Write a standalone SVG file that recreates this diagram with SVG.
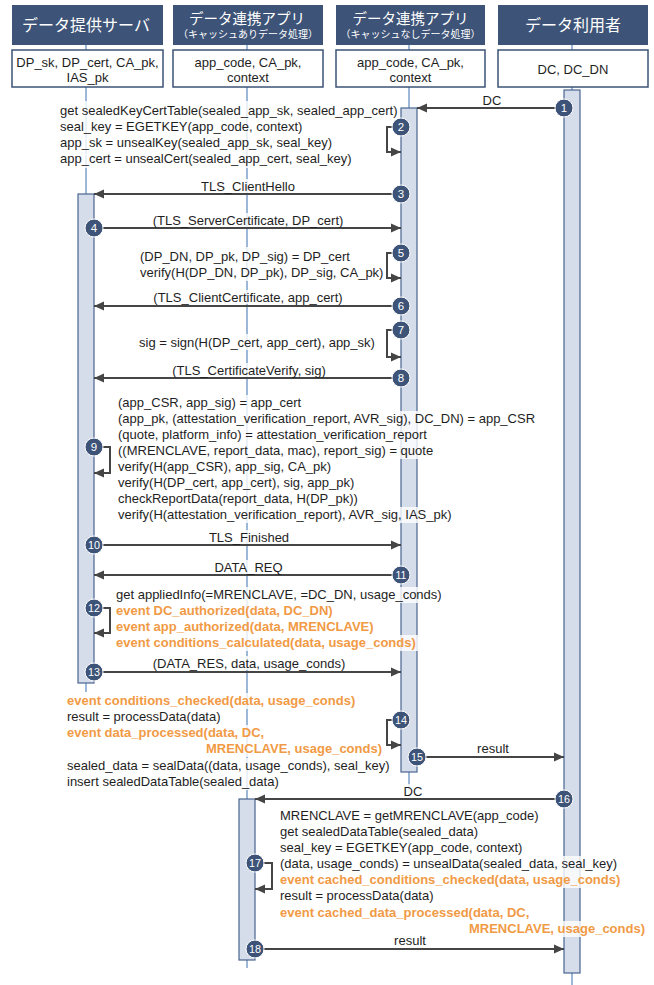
<svg xmlns="http://www.w3.org/2000/svg" width="654" height="985" viewBox="0 0 654 985">
<style>
.hdr{fill:#3d5377}
.hdrt{font-family:"Noto Sans CJK JP","Noto Sans CJK SC",sans-serif;fill:#fff;text-anchor:middle}
.box{fill:#fff;stroke:#3d5377;stroke-width:1.5}
.life{stroke:#7d9fcc;stroke-width:1.5}
.act{fill:#d5dcea;stroke:#4a6590;stroke-width:1.2}
.msg{stroke:#454545;stroke-width:2;fill:none;marker-end:url(#ah)}
.t{font-family:"Liberation Sans",Arial,sans-serif;font-size:13px;fill:#1e1e1e}
.c{text-anchor:middle}
.e{text-anchor:end}
.o{fill:#f19a45;font-weight:bold}
.bg{fill:#fff;fill-opacity:0.8}
.num circle{fill:#3d5377;stroke:#fff;stroke-width:1}
.num text{font-family:"Liberation Sans",Arial,sans-serif;font-size:11.5px;fill:#fff;text-anchor:middle}
</style>
<defs>
<marker id="ah" viewBox="0 0 10 10" refX="10" refY="5" markerWidth="5" markerHeight="5" orient="auto" markerUnits="strokeWidth"><path d="M0,0.5 L10,5 L0,9.5 z" fill="#454545"/></marker>
</defs>
<rect width="654" height="985" fill="#fff"/>

<g id="lifelines">
<line class="life" x1="86" y1="45" x2="86" y2="692"/>
<line class="life" x1="247" y1="45" x2="247" y2="968"/>
<line class="life" x1="409" y1="45" x2="409" y2="790"/>
<line class="life" x1="572" y1="45" x2="572" y2="985"/>
</g>

<g id="dp">
<rect class="hdr" x="12" y="5" width="151" height="40"/>
<text class="hdrt" x="86" y="31" font-size="16">データ提供サーバ</text>
<rect class="box" x="12" y="50" width="151" height="37"/>
<text class="t c" x="87.5" y="66.5">DP_sk, DP_cert, CA_pk,</text>
<text class="t c" x="87.5" y="81.5">IAS_pk</text>
<rect class="act" x="78" y="194" width="16" height="489"/>
</g>

<g id="app_cache">
<rect class="hdr" x="173" y="5" width="150" height="40"/>
<text class="hdrt" x="247" y="23.5" font-size="14.5">データ連携アプリ</text>
<text class="hdrt" x="248" y="38" font-size="10">（キャッシュありデータ処理）</text>
<rect class="box" x="173" y="50" width="150" height="37"/>
<text class="t c" x="248" y="66.5">app_code, CA_pk,</text>
<text class="t c" x="248" y="81.5">context</text>
<rect class="act" x="239" y="799" width="16" height="161"/>
</g>

<g id="app_nocache">
<rect class="hdr" x="336" y="5" width="149" height="40"/>
<text class="hdrt" x="410.5" y="23.5" font-size="14.5">データ連携アプリ</text>
<text class="hdrt" x="410.5" y="38" font-size="10">（キャッシュなしデータ処理）</text>
<rect class="box" x="336" y="50" width="149" height="37"/>
<text class="t c" x="410.5" y="66.5">app_code, CA_pk,</text>
<text class="t c" x="410.5" y="81.5">context</text>
<rect class="act" x="401" y="108" width="16" height="664"/>
</g>

<g id="dc">
<rect class="hdr" x="498" y="5" width="150" height="40"/>
<text class="hdrt" x="573" y="31" font-size="16">データ利用者</text>
<rect class="box" x="498" y="50" width="150" height="37"/>
<text class="t c" x="573" y="73.5">DC, DC_DN</text>
<rect class="act" x="564" y="90" width="16" height="883"/>
</g>

<g id="backgrounds">
<rect class="bg" x="58" y="101" width="340" height="67"/>
<rect class="bg" x="480" y="93" width="24" height="14"/>
<rect class="bg" x="200" y="179" width="96" height="14"/>
<rect class="bg" x="153" y="213" width="190" height="14"/>
<rect class="bg" x="138" y="247" width="240" height="34"/>
<rect class="bg" x="153" y="290" width="190" height="14"/>
<rect class="bg" x="137" y="334" width="240" height="16"/>
<rect class="bg" x="170" y="363" width="158" height="14"/>
<rect class="bg" x="116" y="395" width="186" height="16"/>
<rect class="bg" x="116" y="411" width="422" height="16"/>
<rect class="bg" x="116" y="427" width="328" height="16"/>
<rect class="bg" x="116" y="443" width="323" height="16"/>
<rect class="bg" x="116" y="459" width="211" height="16"/>
<rect class="bg" x="116" y="475" width="240" height="16"/>
<rect class="bg" x="116" y="491" width="245" height="16"/>
<rect class="bg" x="116" y="507" width="342" height="16"/>
<rect class="bg" x="209" y="530" width="80" height="14"/>
<rect class="bg" x="214" y="560" width="69" height="14"/>
<rect class="bg" x="114" y="587" width="330" height="16"/>
<rect class="bg" x="114" y="603" width="225" height="16"/>
<rect class="bg" x="114" y="619" width="268" height="16"/>
<rect class="bg" x="114" y="635" width="306" height="16"/>
<rect class="bg" x="153" y="656" width="192" height="14"/>
<rect class="bg" x="65" y="693" width="293" height="16"/>
<rect class="bg" x="65" y="709" width="162" height="16"/>
<rect class="bg" x="65" y="725" width="205" height="16"/>
<rect class="bg" x="208" y="741" width="176" height="16"/>
<rect class="bg" x="65" y="758" width="323" height="16"/>
<rect class="bg" x="65" y="774" width="216" height="16"/>
<rect class="bg" x="401" y="784" width="24" height="14"/>
<rect class="bg" x="278" y="808" width="257" height="16"/>
<rect class="bg" x="278" y="824" width="202" height="16"/>
<rect class="bg" x="278" y="840" width="239" height="16"/>
<rect class="bg" x="278" y="856" width="339" height="16"/>
<rect class="bg" x="278" y="872" width="344" height="16"/>
<rect class="bg" x="278" y="888" width="161" height="16"/>
<rect class="bg" x="278" y="905" width="263" height="16"/>
<rect class="bg" x="472" y="921" width="175" height="16"/>
</g>

<g id="connectors">
<path class="msg" d="M564,108 H417"/>
<path class="msg" d="M401,127 H387 V152 H401"/>
<path class="msg" d="M401,194 H94"/>
<path class="msg" d="M94,228 H401"/>
<path class="msg" d="M401,253 H387 V278 H401"/>
<path class="msg" d="M401,306 H94"/>
<path class="msg" d="M401,330 H387 V357 H401"/>
<path class="msg" d="M401,378 H94"/>
<path class="msg" d="M94,447 H110 V473 H94"/>
<path class="msg" d="M94,545 H401"/>
<path class="msg" d="M401,575 H94"/>
<path class="msg" d="M94,608 H110 V633 H94"/>
<path class="msg" d="M94,672 H401"/>
<path class="msg" d="M401,720 H387 V745 H401"/>
<path class="msg" d="M417,757 H564"/>
<path class="msg" d="M564,799 H255"/>
<path class="msg" d="M255,863 H272 V889 H255"/>
<path class="msg" d="M255,949 H564"/>

<text class="t c" x="492" y="104.5">DC</text>
<text class="t c" x="248" y="190.5">TLS_ClientHello</text>
<text class="t c" x="248" y="224.5">(TLS_ServerCertificate, DP_cert)</text>
<text class="t c" x="248" y="301.5">(TLS_ClientCertificate, app_cert)</text>
<text class="t c" x="249" y="374.5">(TLS_CertificateVerify, sig)</text>
<text class="t c" x="249" y="541.5">TLS_Finished</text>
<text class="t c" x="248.5" y="571.5">DATA_REQ</text>
<text class="t c" x="249" y="667.5">(DATA_RES, data, usage_conds)</text>
<text class="t c" x="493" y="752.5">result</text>
<text class="t c" x="413" y="795.5">DC</text>
<text class="t c" x="410" y="944.5">result</text>
</g>

<g id="notes">
<text class="t" x="60" y="115">get sealedKeyCertTable(sealed_app_sk, sealed_app_cert)</text>
<text class="t" x="60" y="131">seal_key = EGETKEY(app_code, context)</text>
<text class="t" x="60" y="147">app_sk = unsealKey(sealed_app_sk, seal_key)</text>
<text class="t" x="60" y="163">app_cert = unsealCert(sealed_app_cert, seal_key)</text>

<text class="t" x="140" y="260.5">(DP_DN, DP_pk, DP_sig) = DP_cert</text>
<text class="t" x="140" y="277">verify(H(DP_DN, DP_pk), DP_sig, CA_pk)</text>

<text class="t" x="139" y="346.5">sig = sign(H(DP_cert, app_cert), app_sk)</text>

<text class="t" x="118" y="407">(app_CSR, app_sig) = app_cert</text>
<text class="t" x="118" y="423">(app_pk, (attestation_verification_report, AVR_sig), DC_DN) = app_CSR</text>
<text class="t" x="118" y="439">(quote, platform_info) = attestation_verification_report</text>
<text class="t" x="118" y="455">((MRENCLAVE, report_data, mac), report_sig) = quote</text>
<text class="t" x="118" y="471">verify(H(app_CSR), app_sig, CA_pk)</text>
<text class="t" x="118" y="487">verify(H(DP_cert, app_cert), sig, app_pk)</text>
<text class="t" x="118" y="503">checkReportData(report_data, H(DP_pk))</text>
<text class="t" x="118" y="519">verify(H(attestation_verification_report), AVR_sig, IAS_pk)</text>

<text class="t" x="116" y="599">get appliedInfo(=MRENCLAVE, =DC_DN, usage_conds)</text>
<text class="t o" x="116" y="615">event DC_authorized(data, DC_DN)</text>
<text class="t o" x="116" y="631">event app_authorized(data, MRENCLAVE)</text>
<text class="t o" x="116" y="647">event conditions_calculated(data, usage_conds)</text>

<text class="t o" x="67" y="705">event conditions_checked(data, usage_conds)</text>
<text class="t" x="67" y="721">result = processData(data)</text>
<text class="t o" x="67" y="737">event data_processed(data, DC,</text>
<text class="t o e" x="382" y="753">MRENCLAVE, usage_conds)</text>
<text class="t" x="67" y="770">sealed_data = sealData((data, usage_conds), seal_key)</text>
<text class="t" x="67" y="786">insert sealedDataTable(sealed_data)</text>

<text class="t" x="280" y="820">MRENCLAVE = getMRENCLAVE(app_code)</text>
<text class="t" x="280" y="836">get sealedDataTable(sealed_data)</text>
<text class="t" x="280" y="852">seal_key = EGETKEY(app_code, context)</text>
<text class="t" x="280" y="868">(data, usage_conds) = unsealData(sealed_data, seal_key)</text>
<text class="t o" x="280" y="884">event cached_conditions_checked(data, usage_conds)</text>
<text class="t" x="280" y="900">result = processData(data)</text>
<text class="t o" x="280" y="917">event cached_data_processed(data, DC,</text>
<text class="t o e" x="645" y="933">MRENCLAVE, usage_conds)</text>
</g>

<g id="steps" class="num">
<g id="n1"><circle cx="564" cy="108" r="9"/><text x="564" y="112">1</text></g>
<g id="n2"><circle cx="401" cy="127" r="9"/><text x="401" y="131">2</text></g>
<g id="n3"><circle cx="401" cy="194" r="9"/><text x="401" y="198">3</text></g>
<g id="n4"><circle cx="94" cy="228" r="9"/><text x="94" y="232">4</text></g>
<g id="n5"><circle cx="401" cy="253" r="9"/><text x="401" y="257">5</text></g>
<g id="n6"><circle cx="401" cy="306" r="9"/><text x="401" y="310">6</text></g>
<g id="n7"><circle cx="401" cy="330" r="9"/><text x="401" y="334">7</text></g>
<g id="n8"><circle cx="401" cy="378" r="9"/><text x="401" y="382">8</text></g>
<g id="n9"><circle cx="94" cy="447" r="9"/><text x="94" y="451">9</text></g>
<g id="n10"><circle cx="94" cy="545" r="9"/><text x="94" y="549" textLength="12" lengthAdjust="spacingAndGlyphs">10</text></g>
<g id="n11"><circle cx="401" cy="575" r="9"/><text x="401" y="579" textLength="11" lengthAdjust="spacingAndGlyphs">11</text></g>
<g id="n12"><circle cx="94" cy="608" r="9"/><text x="94" y="612" textLength="12" lengthAdjust="spacingAndGlyphs">12</text></g>
<g id="n13"><circle cx="94" cy="672" r="9"/><text x="94" y="676" textLength="12" lengthAdjust="spacingAndGlyphs">13</text></g>
<g id="n14"><circle cx="401" cy="720" r="9"/><text x="401" y="724" textLength="12" lengthAdjust="spacingAndGlyphs">14</text></g>
<g id="n15"><circle cx="417" cy="757" r="9"/><text x="417" y="761" textLength="12" lengthAdjust="spacingAndGlyphs">15</text></g>
<g id="n16"><circle cx="564" cy="799" r="9"/><text x="564" y="803" textLength="12" lengthAdjust="spacingAndGlyphs">16</text></g>
<g id="n17"><circle cx="255" cy="863" r="9"/><text x="255" y="867" textLength="12" lengthAdjust="spacingAndGlyphs">17</text></g>
<g id="n18"><circle cx="255" cy="949" r="9"/><text x="255" y="953" textLength="12" lengthAdjust="spacingAndGlyphs">18</text></g>
</g>
</svg>
